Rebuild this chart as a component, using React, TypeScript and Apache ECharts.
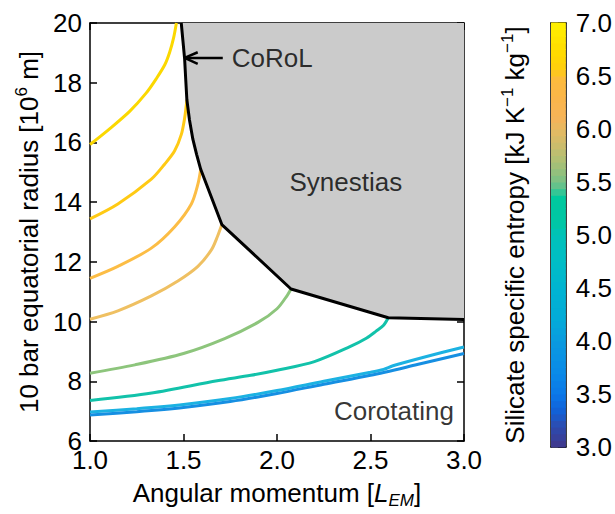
import React, { useEffect, useRef } from "react";
import * as echarts from "echarts";

const FONT = "'Liberation Sans', Arial, Helvetica, sans-serif";

// Axis ranges / tick steps
const X_RANGE = [1, 3];
const Y_RANGE = [6, 20];
const CB_RANGE = [3, 7];

// CoRoL boundary (angular momentum, radius)
const corol: number[][] = [
  [1.488, 20], [1.497, 19.4], [1.506, 18.8], [1.512, 18.1], [1.518, 17.43], [1.532, 16.75],
  [1.55, 16.11], [1.57, 15.6], [1.592, 15.1],
  [1.705, 13.25], [2.075, 11.09], [2.595, 10.13], [3.0, 10.07],
];

// Constant-entropy contours
const s68: number[][] = [[1.0, 15.93], [1.1, 16.43], [1.212, 17.04], [1.3, 17.65], [1.354, 18.13], [1.4, 18.6], [1.426, 19.02], [1.447, 19.5], [1.462, 20.0]];
const s66: number[][] = [[1.0, 13.44], [1.149, 13.94], [1.328, 14.77], [1.399, 15.27], [1.452, 15.71], [1.488, 16.26], [1.506, 16.81], [1.515, 17.25], [1.518, 17.43]];
const s63: number[][] = [[1.0, 11.45], [1.149, 11.85], [1.328, 12.46], [1.452, 13.17], [1.542, 13.94], [1.577, 14.6], [1.592, 15.1]];
const s60: number[][] = [[1.0, 10.08], [1.149, 10.36], [1.328, 10.86], [1.47, 11.36], [1.577, 11.85], [1.649, 12.4], [1.681, 12.84], [1.705, 13.25]];
const s56: number[][] = [[1.0, 8.27], [1.24, 8.55], [1.5, 8.93], [1.72, 9.43], [1.9, 9.98], [2.0, 10.43], [2.055, 10.88], [2.075, 11.09]];
const s51: number[][] = [[1.0, 7.36], [1.33, 7.61], [1.68, 8.02], [1.86, 8.2], [2.0, 8.37], [2.2, 8.66], [2.39, 9.16], [2.48, 9.45], [2.53, 9.68], [2.57, 9.88], [2.595, 10.13]];
const s43: number[][] = [[1.0, 6.97], [1.25, 7.08], [1.5, 7.22], [1.75, 7.42], [2.0, 7.69], [2.25, 8.0], [2.5, 8.3], [2.57, 8.4], [2.62, 8.52], [2.8, 8.83], [3.0, 9.15]];
const s39: number[][] = [[1.0, 6.87], [1.25, 6.98], [1.5, 7.12], [1.75, 7.32], [2.0, 7.59], [2.25, 7.9], [2.5, 8.2], [2.75, 8.56], [3.0, 8.93]];

const contourSeries = [
  { name: "6.8", data: s68, color: "#fbd800" },
  { name: "6.6", data: s66, color: "#ffca14" },
  { name: "6.3", data: s63, color: "#fcbd45" },
  { name: "6.0", data: s60, color: "#efc062" },
  { name: "5.6", data: s56, color: "#8dc57c" },
  { name: "5.1", data: s51, color: "#12c2aa" },
  { name: "4.3", data: s43, color: "#1cb2e2" },
  { name: "3.9", data: s39, color: "#168fe2" },
];

// Arrow pointing at CoRoL
const arrowHead: number[][] = [[1.576, 19.02], [1.506, 18.83], [1.576, 18.63]];
const arrowShaft: number[][] = [[1.506, 18.83], [1.71, 18.83]];

// Text annotations
const labelCorol = [1.71, 18.83];
const labelSynestias = [2.368, 14.66];
const labelCorotating = [2.625, 6.99];

// Colormap stops (entropy, colour)
const cmapStops: [number, string][] = [
  [3.0, "#40378a"], [3.2, "#2c4cb0"], [3.35, "#1162d8"], [3.5, "#0b78e8"], [3.7, "#0a8ae8"],
  [4.0, "#0a9adf"], [4.2, "#03aad8"], [4.5, "#00b4d2"], [4.7, "#00bcc8"], [5.0, "#00c2ba"],
  [5.1, "#00c6a6"], [5.35, "#00c99e"], [5.45, "#5cc38e"], [5.55, "#88c080"], [5.7, "#aec074"],
  [5.85, "#ccbc6c"], [6.0, "#e6ba62"], [6.1, "#f5b45a"], [6.3, "#fbb54a"], [6.5, "#fdbc3a"],
  [6.55, "#ffcc10"], [6.7, "#ffd800"], [6.85, "#ffe400"], [7.0, "#fff200"],
];
const CB_BANDS = 64;

function hexToRgb(h: string) {
  const n = parseInt(h.slice(1), 16);
  return [(n >> 16) & 255, (n >> 8) & 255, n & 255];
}
function cmap(v: number) {
  for (let i = 0; i < cmapStops.length - 1; i++) {
    const [a, ca] = cmapStops[i];
    const [b, cb] = cmapStops[i + 1];
    if (v >= a && v <= b) {
      const t = (v - a) / (b - a);
      const A = hexToRgb(ca), B = hexToRgb(cb);
      const c = A.map((x, k) => Math.round(x + (B[k] - x) * t));
      return `rgb(${c[0]},${c[1]},${c[2]})`;
    }
  }
  return cmapStops[cmapStops.length - 1][1];
}

export default function App() {
  const ref = useRef<HTMLDivElement>(null);
  useEffect(() => {
    if (!ref.current) return;
    const chart = echarts.init(ref.current, undefined, { renderer: "svg" });
    const step = (CB_RANGE[1] - CB_RANGE[0]) / CB_BANDS;
    const bands: number[][] = [];
    for (let i = 0; i < CB_BANDS; i++) {
      const lo = CB_RANGE[0] + i * step;
      bands.push([0, lo, lo + step]);
    }

    const axisLine = { show: true, onZero: false, lineStyle: { color: "#000", width: 1.5 } };
    const tick = { show: true, inside: true, length: 7, lineStyle: { color: "#000", width: 1.5 } };
    const tickLabel = { fontSize: 26, color: "#000", fontFamily: FONT };
    const rich = {
      t: { fontSize: 26, color: "#000", fontFamily: FONT, lineHeight: 32 },
      i: { fontSize: 26, color: "#000", fontFamily: FONT, fontStyle: "italic", lineHeight: 32 },
      s: { fontSize: 17, color: "#000", fontFamily: FONT, fontStyle: "italic", verticalAlign: "bottom", lineHeight: 18 },
      p: { fontSize: 17, color: "#000", fontFamily: FONT, verticalAlign: "top", lineHeight: 18 },
    };

    const textLabel = (pt: number[], text: string, position: any, extra: any = {}) => ({
      type: "scatter",
      xAxisIndex: 0,
      yAxisIndex: 0,
      symbolSize: 0,
      silent: true,
      z: 10,
      data: [pt],
      label: { show: true, position, formatter: text, fontSize: 26, color: "#000", fontFamily: FONT, ...extra },
    });

    chart.setOption({
      animation: false,
      backgroundColor: "#fff",
      grid: [
        { left: 90, top: 23, width: 374, height: 424 },
        { left: 551, top: 23, width: 16, height: 424 },
      ],
      xAxis: [
        {
          gridIndex: 0, type: "value", min: X_RANGE[0], max: X_RANGE[1], interval: 0.5, position: "bottom",
          axisLine, axisTick: tick, splitLine: { show: false },
          axisLabel: { ...tickLabel, margin: 6, formatter: (v: number) => v.toFixed(1) },
          name: "{t|Angular momentum [}{i|L}{s|EM}{t|]}", nameLocation: "middle", nameGap: 36,
          nameTextStyle: { rich },
        },
        {
          gridIndex: 0, type: "value", min: X_RANGE[0], max: X_RANGE[1], interval: 0.5, position: "top",
          axisLine, axisTick: tick, axisLabel: { show: false }, splitLine: { show: false },
        },
        {
          gridIndex: 1, type: "category", data: ["cb"], position: "bottom",
          axisLine, axisTick: { show: false }, axisLabel: { show: false },
        },
        {
          gridIndex: 1, type: "category", data: ["cb"], position: "top",
          axisLine, axisTick: { show: false }, axisLabel: { show: false },
        },
      ],
      yAxis: [
        {
          gridIndex: 0, type: "value", min: Y_RANGE[0], max: Y_RANGE[1], interval: 2, position: "left",
          axisLine, axisTick: tick, splitLine: { show: false },
          axisLabel: { ...tickLabel, margin: 8 },
          name: "{t|10 bar equatorial radius [10}{p|6}{t| m]}", nameLocation: "middle", nameGap: 44, nameRotate: 90,
          nameTextStyle: { rich },
        },
        {
          gridIndex: 0, type: "value", min: Y_RANGE[0], max: Y_RANGE[1], interval: 2, position: "right",
          axisLine, axisTick: tick, axisLabel: { show: false }, splitLine: { show: false },
        },
        {
          gridIndex: 1, type: "value", min: CB_RANGE[0], max: CB_RANGE[1], interval: 0.5, position: "right",
          axisLine, axisTick: { show: true, inside: true, length: 8, lineStyle: { color: "#000", width: 1.5 } },
          splitLine: { show: false },
          axisLabel: { ...tickLabel, margin: 10, formatter: (v: number) => v.toFixed(1) },
        },
        {
          gridIndex: 1, type: "value", min: CB_RANGE[0], max: CB_RANGE[1], interval: 0.5, position: "left",
          axisLine, axisTick: { show: false }, axisLabel: { show: false }, splitLine: { show: false },
          name: "{t|Silicate specific entropy [kJ K}{p|−1}{t| kg}{p|−1}{t|]}", nameLocation: "middle",
          nameGap: 20, nameRotate: 90, nameTextStyle: { rich },
        },
      ],
      series: [
        {
          type: "line", xAxisIndex: 0, yAxisIndex: 0, data: corol, symbol: "none", silent: true,
          lineStyle: { width: 0, opacity: 0 }, areaStyle: { color: "#cbcbcb", opacity: 1, origin: "end" }, z: 1,
        },
        ...contourSeries.map((c) => ({
          type: "line", name: c.name, xAxisIndex: 0, yAxisIndex: 0, data: c.data, symbol: "none", silent: true,
          smooth: 0.3, lineStyle: { color: c.color, width: 3 }, z: 2,
        })),
        {
          type: "line", xAxisIndex: 0, yAxisIndex: 0, data: corol, symbol: "none", silent: true,
          lineStyle: { color: "#000", width: 3, join: "round" }, z: 3,
        },
        {
          type: "line", xAxisIndex: 0, yAxisIndex: 0, data: arrowHead, symbol: "none", silent: true,
          lineStyle: { color: "#000", width: 2.5 }, z: 4,
        },
        {
          type: "line", xAxisIndex: 0, yAxisIndex: 0, data: arrowShaft, symbol: "none", silent: true,
          lineStyle: { color: "#000", width: 2.5 }, z: 4,
        },
        textLabel(labelCorol, "CoRoL", "right", { distance: 9 }),
        textLabel(labelSynestias, "Synestias", "inside"),
        textLabel(labelCorotating, "Corotating", "inside"),
        {
          type: "custom", xAxisIndex: 2, yAxisIndex: 2, silent: true, data: bands,
          renderItem: (params: any, api: any) => {
            const lo = api.value(1), hi = api.value(2);
            const p1 = api.coord([0, lo]);
            const p2 = api.coord([0, hi]);
            const cs = params.coordSys;
            return {
              type: "rect",
              shape: { x: cs.x, y: p2[1] - 0.5, width: cs.width, height: p1[1] - p2[1] + 1 },
              style: { fill: cmap((lo + hi) / 2) },
            };
          },
          z: 1,
        },
      ],
    });
    return () => chart.dispose();
  }, []);
  return <div ref={ref} style={{ position: "fixed", left: 0, top: 0, width: 615, height: 514 }} />;
}
